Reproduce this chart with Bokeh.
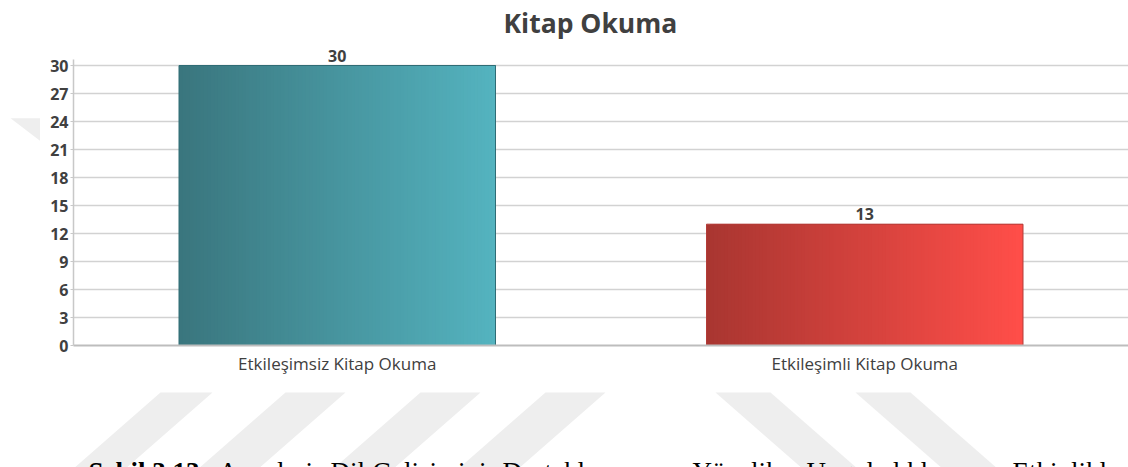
from bokeh.plotting import figure
from bokeh.layouts import column, row
from bokeh.models import Range1d, FixedTicker, LabelSet, ColumnDataSource
from bokeh.core.properties import value
from bokeh.embed import file_html
from bokeh.resources import INLINE

# ---- data ----
categories = ["Etkileşimsiz Kitap Okuma", "Etkileşimli Kitap Okuma"]
values = [30, 13]
y_ticks = [0, 3, 6, 9, 12, 15, 18, 21, 24, 27, 30]
title_text = "Kitap Okuma"
caption_bold = "Şekil 3.13:"
caption_words = ["Annelerin", "Dil", "Gelişimini", "Desteklemeye", "Yönelik",
                 "Uyguladıkları", "Etkinlikler"]

# ---- styles ----
grad_left = [(0x3a, 0x76, 0x7e), (0xa9, 0x36, 0x31)]
grad_right = [(0x54, 0xb3, 0xbf), (0xff, 0x4e, 0x49)]
outline = ["#2f6c75", "#b33c38"]
TXT = "#404040"
FONT = "Open Sans"
BAR_W = 0.6
N_SLICES = 90
WM = "#eeeeee"

# ---- main chart ----
p = figure(width=1088, height=385, output_backend="svg", toolbar_location=None,
           x_range=Range1d(0, len(categories)), y_range=Range1d(0, 32.68),
           min_border_left=33, min_border_right=0, min_border_top=40,
           min_border_bottom=40)
p.outline_line_color = None
p.background_fill_color = None
p.border_fill_color = "white"

centers = [i + 0.5 for i in range(len(categories))]
for i, (c, v) in enumerate(zip(centers, values)):
    left0 = c - BAR_W / 2
    right0 = c + BAR_W / 2
    step = BAR_W / N_SLICES
    lefts = [left0 + k * step for k in range(N_SLICES)]
    cols = []
    for k in range(N_SLICES):
        t = k / (N_SLICES - 1)
        rgb = [round(grad_left[i][j] + (grad_right[i][j] - grad_left[i][j]) * t) for j in range(3)]
        cols.append("#%02x%02x%02x" % tuple(rgb))
    p.quad(left=lefts, right=[right0] * N_SLICES, bottom=0, top=[v] * N_SLICES,
           fill_color=cols, line_color=None)

p.vbar(x=centers, top=values, width=BAR_W, fill_color=None,
       line_color=outline, line_width=1)

src = ColumnDataSource(dict(x=centers, y=values, t=[str(v) for v in values]))
p.add_layout(LabelSet(x="x", y="y", text="t", source=src, y_offset=4,
                      text_align="center", text_baseline="alphabetic",
                      text_font=value(FONT), text_font_style="bold",
                      text_font_size="16px", text_color=TXT))

p.xgrid.visible = False
p.ygrid.ticker = FixedTicker(ticks=y_ticks)
p.ygrid.grid_line_color = "#d2d2d2"
p.ygrid.grid_line_width = 1.5

p.yaxis.ticker = FixedTicker(ticks=y_ticks)
p.yaxis.bounds = (0, 30.6)
p.yaxis.major_label_text_font = FONT
p.yaxis.major_label_text_font_style = "bold"
p.yaxis.major_label_text_font_size = "16px"
p.yaxis.major_label_text_color = TXT
p.yaxis.axis_line_color = "#c8c8c8"
p.yaxis.axis_line_width = 1.5
p.yaxis.major_tick_line_color = "#c8c8c8"
p.yaxis.major_tick_out = 3
p.yaxis.major_tick_in = 0
p.yaxis.minor_tick_line_color = None
p.yaxis.major_label_standoff = 2

p.xaxis.ticker = FixedTicker(ticks=centers)
p.xaxis.major_label_overrides = {c: cat for c, cat in zip(centers, categories)}
p.xaxis.major_label_text_font = FONT
p.xaxis.major_label_text_font_size = "17px"
p.xaxis.major_label_text_color = TXT
p.xaxis.major_tick_line_color = None
p.xaxis.major_tick_out = 0
p.xaxis.major_tick_in = 0
p.xaxis.minor_tick_line_color = None
p.xaxis.axis_line_color = "#bdbdbd"
p.xaxis.axis_line_width = 2
p.xaxis.major_label_standoff = 6

p.title.text = title_text
p.title.align = "left"
p.title.offset = 430
p.title.text_font = FONT
p.title.text_font_size = "26.5px"
p.title.text_font_style = "bold"
p.title.text_color = TXT
p.title.standoff = 0


def blank(fig):
    fig.axis.visible = False
    fig.grid.visible = False
    fig.outline_line_color = None
    fig.background_fill_color = "white"
    fig.border_fill_color = "white"
    return fig


# ---- left strip with a bit of the background watermark ----
pl = blank(figure(width=40, height=385, output_backend="svg", toolbar_location=None,
                  x_range=Range1d(0, 40), y_range=Range1d(385, 0),
                  min_border=0))
pl.patch(x=[10, 40, 40], y=[98, 98, 127], fill_color=WM, line_color=None)

# ---- bottom strip: watermark stripes and the cut-off (justified) caption ----
pb = blank(figure(width=1128, height=82, output_backend="svg", toolbar_location=None,
                  x_range=Range1d(0, 1128), y_range=Range1d(82, 0),
                  min_border=0))
stripes_fwd = [(160, 212), (285, 345), (420, 480), (545, 605)]
stripes_back = [(715, 770), (855, 910)]
top_y, bot_y, shift = 7, 84, 88
xs, ys = [], []
for a, b in stripes_fwd:
    xs.append([a, b, b - shift, a - shift]); ys.append([top_y, top_y, bot_y, bot_y])
for a, b in stripes_back:
    xs.append([a, b, b + shift, a + shift]); ys.append([top_y, top_y, bot_y, bot_y])
pb.patches(xs=xs, ys=ys, fill_color=WM, line_color=None)

cap_base = 86
pb.text(x=[88], y=[cap_base], text=[caption_bold], text_font=value("Liberation Serif"),
        text_font_style="bold", text_font_size="27px", text_color="black",
        text_baseline="alphabetic")
word_x = [218, 330, 372, 502, 692, 806, 1012]
pb.text(x=word_x, y=[cap_base] * len(word_x), text=caption_words,
        text_font=value("Liberation Serif"), text_font_size="27px",
        text_color="black", text_baseline="alphabetic")

layout = column(row(pl, p, spacing=0), pb, spacing=0)
open("out.html", "w").write(file_html(layout, INLINE))
